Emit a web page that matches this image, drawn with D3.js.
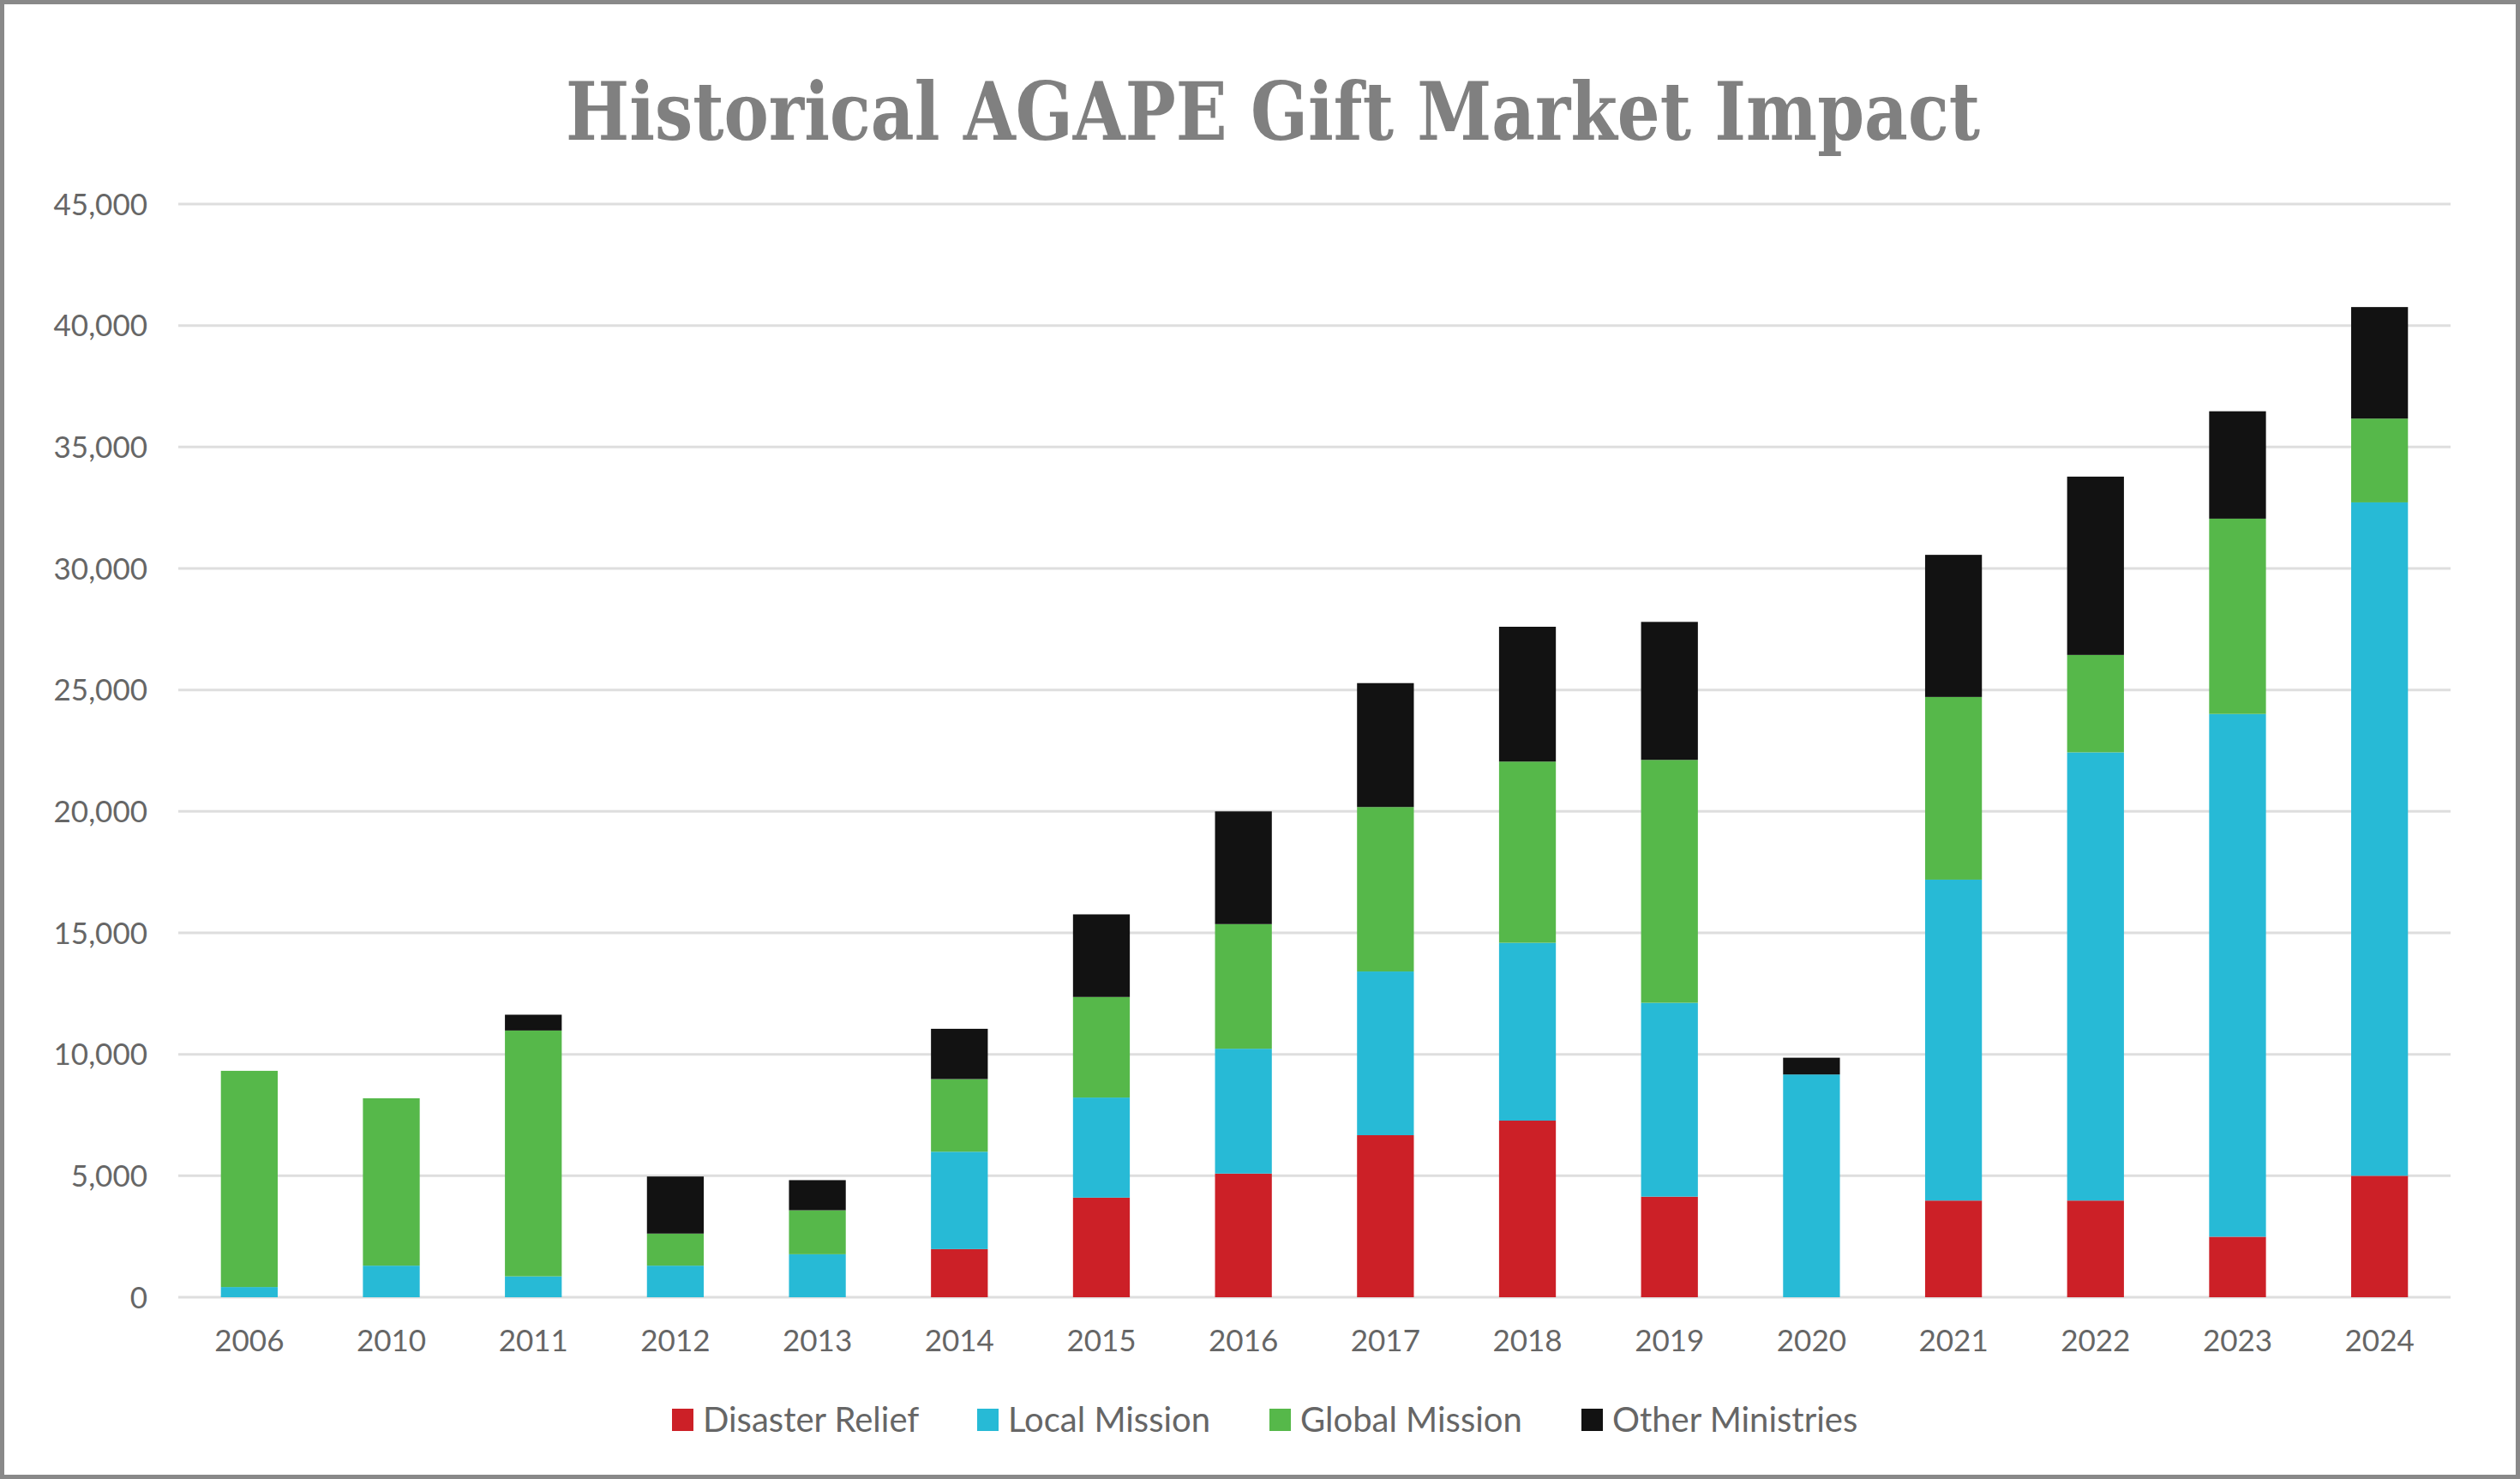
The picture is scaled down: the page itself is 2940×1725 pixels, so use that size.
<!DOCTYPE html>
<html>
<head>
<meta charset="utf-8">
<script src="https://cdn.jsdelivr.net/npm/d3@7"></script>
<style>
  html, body { margin: 0; padding: 0; background: #fff; }
  svg { display: block; }
</style>
</head>
<body>
<svg id="chart" width="2940" height="1725"></svg>
<script>
const years = ["2006","2010","2011","2012","2013","2014","2015","2016","2017","2018","2019","2020","2021","2022","2023","2024"];
const seriesNames = ["Disaster Relief","Local Mission","Global Mission","Other Ministries"];
const disasterRelief = [0,0,0,0,0,1980,4100,5090,6670,7270,4140,0,3980,3980,2490,5000];
const localMission = [420,1300,860,1300,1770,4010,4120,5140,6740,7320,7980,9170,13210,18450,21520,27720];
const globalMission = [8900,6890,10120,1320,1810,2990,4140,5130,6770,7460,10000,0,7520,4010,8040,3450];
const otherMinistries = [0,0,650,2350,1240,2070,3400,4640,5100,5550,5680,690,5850,7340,4420,4590];
const yTicks = [0,5000,10000,15000,20000,25000,30000,35000,40000,45000];
const colors = ["#cc2027","#27bad6","#56b84a","#121212"];

(function () {
const seriesArrays = [disasterRelief, localMission, globalMission, otherMinistries];
const table = years.map((yr, i) => {
  const row = { year: yr };
  seriesNames.forEach((s, k) => row[s] = seriesArrays[k][i]);
  return row;
});

const svg = d3.select("#chart");
const W = 2940, H = 1725;
const plotLeft = 208, plotRight = 2859, plotTop = 238, plotBottom = 1513;

svg.append("rect").attr("x", 0).attr("y", 0).attr("width", W).attr("height", H).attr("fill", "#fff");

const x = d3.scaleBand().domain(years).range([plotLeft, plotRight]).paddingInner(0.6).paddingOuter(0.3);
const y = d3.scaleLinear().domain([0, 45000]).range([plotBottom, plotTop]);

// gridlines
svg.append("g").selectAll("line").data(yTicks).join("line")
  .attr("x1", plotLeft).attr("x2", plotRight)
  .attr("y1", d => y(d)).attr("y2", d => y(d))
  .attr("stroke", "#dedede").attr("stroke-width", 3);

// y axis labels
const yAxis = d3.axisLeft(y).tickValues(yTicks).tickFormat(d3.format(",")).tickSize(0).tickPadding(0);
const gy = svg.append("g").attr("transform", `translate(172,0)`).call(yAxis);
gy.select(".domain").remove();
gy.selectAll("text").attr("font-family", "Lato, 'Open Sans', sans-serif").attr("font-size", 35)
  .attr("fill", "#666666").attr("dy", "0.35em");

// x axis labels
const xAxis = d3.axisBottom(x).tickSize(0).tickPadding(0);
const gx = svg.append("g").attr("transform", `translate(0,1564)`).call(xAxis);
gx.select(".domain").remove();
gx.selectAll("text").attr("font-family", "Lato, 'Open Sans', sans-serif").attr("font-size", 35)
  .attr("fill", "#666666").attr("dy", "0.35em");

// stacked bars
const stacked = d3.stack().keys(seriesNames)(table);
svg.append("g").selectAll("g").data(stacked).join("g")
  .attr("fill", (d, i) => colors[i])
  .selectAll("rect").data(d => d).join("rect")
  .attr("x", d => x(d.data.year))
  .attr("width", x.bandwidth())
  .attr("y", d => y(d[1]))
  .attr("height", d => Math.max(0, y(d[0]) - y(d[1])));

// title
svg.append("text")
  .attr("x", 1485).attr("y", 163)
  .attr("text-anchor", "middle")
  .attr("font-family", "'DejaVu Serif', serif")
  .attr("font-weight", "bold")
  .attr("font-size", 94)
  .attr("fill", "#808080")
  .attr("textLength", 1650)
  .attr("lengthAdjust", "spacingAndGlyphs")
  .text("Historical AGAPE Gift Market Impact");

// legend
const legendX = [784, 1140, 1481, 1845];
const lg = svg.append("g").selectAll("g").data(seriesNames).join("g")
  .attr("transform", (d, i) => `translate(${legendX[i]},1656)`);
lg.append("rect").attr("x", 0).attr("y", -13).attr("width", 25).attr("height", 26)
  .attr("fill", (d, i) => colors[i]);
lg.append("text").attr("x", 36).attr("y", 0).attr("dy", "0.35em")
  .attr("font-family", "Lato, 'Open Sans', sans-serif").attr("font-size", 40)
  .attr("fill", "#666666").text(d => d);

// outer border
svg.append("rect").attr("x", 2.5).attr("y", 2.5).attr("width", W - 5).attr("height", H - 5)
  .attr("fill", "none").attr("stroke", "#898989").attr("stroke-width", 5);
})();
</script>
</body>
</html>
